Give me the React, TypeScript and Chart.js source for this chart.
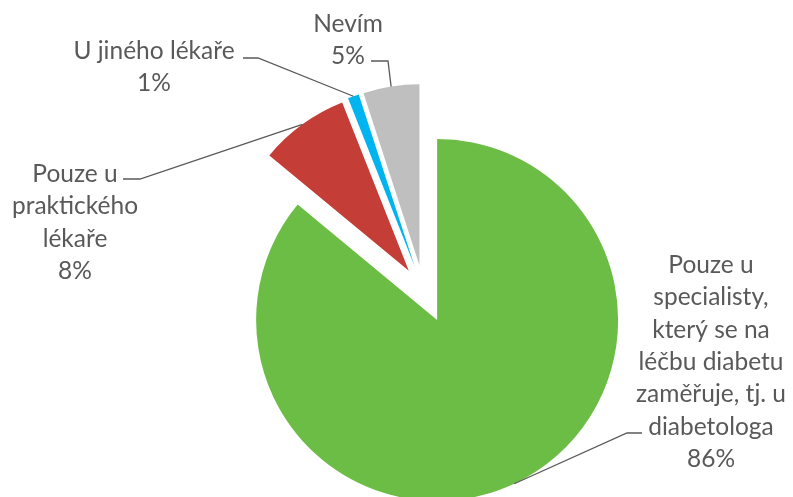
import React, { useEffect, useRef } from 'react';
import { Chart, registerables } from 'chart.js';

Chart.register(...registerables);

const categories = [
  'Pouze u specialisty, který se na léčbu diabetu zaměřuje, tj. u diabetologa',
  'Pouze u praktického lékaře',
  'U jiného lékaře',
  'Nevím',
];
const values = [86, 8, 1, 5];
const labelLines = [
  ['Pouze u', 'specialisty,', 'který se na', 'léčbu diabetu', 'zaměřuje, tj. u', 'diabetologa'],
  ['Pouze u', 'praktického', 'lékaře'],
  ['U jiného lékaře'],
  ['Nevím'],
];
const colors = ['#6CBD45', '#C43D36', '#00B5EF', '#BFBFBF'];
const explode = [32, 25, 26, 26];

const labelLayout = [
  { x: 711, y: 273, elbow: [[642, 433], [627, 433]] },
  { x: 75, y: 182, elbow: [[123, 179], [140, 179]] },
  { x: 154, y: 59, elbow: [[243, 58], [258, 58]] },
  { x: 348, y: 32, elbow: [[371, 61], [388, 61]] },
];

const TEXT_COLOR = '#595959';
const FONT = '24.5px Lato';
const LINE_H = 32.3;

const explodePlugin = {
  id: 'explodeDraw',
  beforeDatasetDraw(chart: any, args: any) {
    const ctx = chart.ctx;
    args.meta.data.forEach((arc: any, i: number) => {
      const half = (arc.startAngle + arc.endAngle) / 2;
      const d = explode[i] || 0;
      ctx.save();
      ctx.translate(Math.cos(half) * d, Math.sin(half) * d);
      arc.draw(ctx);
      ctx.restore();
    });
    return false;
  },
  afterDatasetsDraw(chart: any) {
    const ctx = chart.ctx;
    const meta = chart.getDatasetMeta(0);
    ctx.save();
    meta.data.forEach((arc: any, i: number) => {
      const { x, y, startAngle, endAngle, outerRadius } = arc.getProps(
        ['x', 'y', 'startAngle', 'endAngle', 'outerRadius'],
        true
      );
      const half = (startAngle + endAngle) / 2;
      const d = explode[i] || 0;
      const px = x + Math.cos(half) * (d + outerRadius);
      const py = y + Math.sin(half) * (d + outerRadius);
      const lay = labelLayout[i];
      ctx.strokeStyle = TEXT_COLOR;
      ctx.lineWidth = 1.3;
      ctx.beginPath();
      ctx.moveTo(lay.elbow[0][0], lay.elbow[0][1]);
      ctx.lineTo(lay.elbow[1][0], lay.elbow[1][1]);
      ctx.lineTo(px, py);
      ctx.stroke();

      const lines = [...labelLines[i], values[i] + '%'];
      ctx.fillStyle = TEXT_COLOR;
      ctx.font = FONT;
      ctx.textAlign = 'center';
      ctx.textBaseline = 'alphabetic';
      lines.forEach((t, k) => {
        ctx.fillText(t, lay.x, lay.y + k * LINE_H);
      });
    });
    ctx.restore();
  },
};

export default function App() {
  const ref = useRef<HTMLCanvasElement>(null);
  useEffect(() => {
    if (!ref.current) return;
    const chart = new Chart(ref.current, {
      type: 'pie',
      data: {
        labels: categories,
        datasets: [
          {
            data: values,
            backgroundColor: colors,
            borderWidth: 0,
            radius: 181,
          } as any,
        ],
      },
      options: {
        responsive: false,
        animation: false,
        layout: { padding: { left: 100, right: 46, top: 100, bottom: 15 } },
        plugins: {
          legend: { display: false },
          tooltip: { enabled: false },
        },
      },
      plugins: [explodePlugin],
    });
    return () => chart.destroy();
  }, []);
  return (
    <div style={{ position: 'absolute', left: 0, top: 0, width: 793, height: 497, background: '#fff' }}>
      <canvas ref={ref} width={793} height={497} style={{ display: 'block' }} />
    </div>
  );
}
